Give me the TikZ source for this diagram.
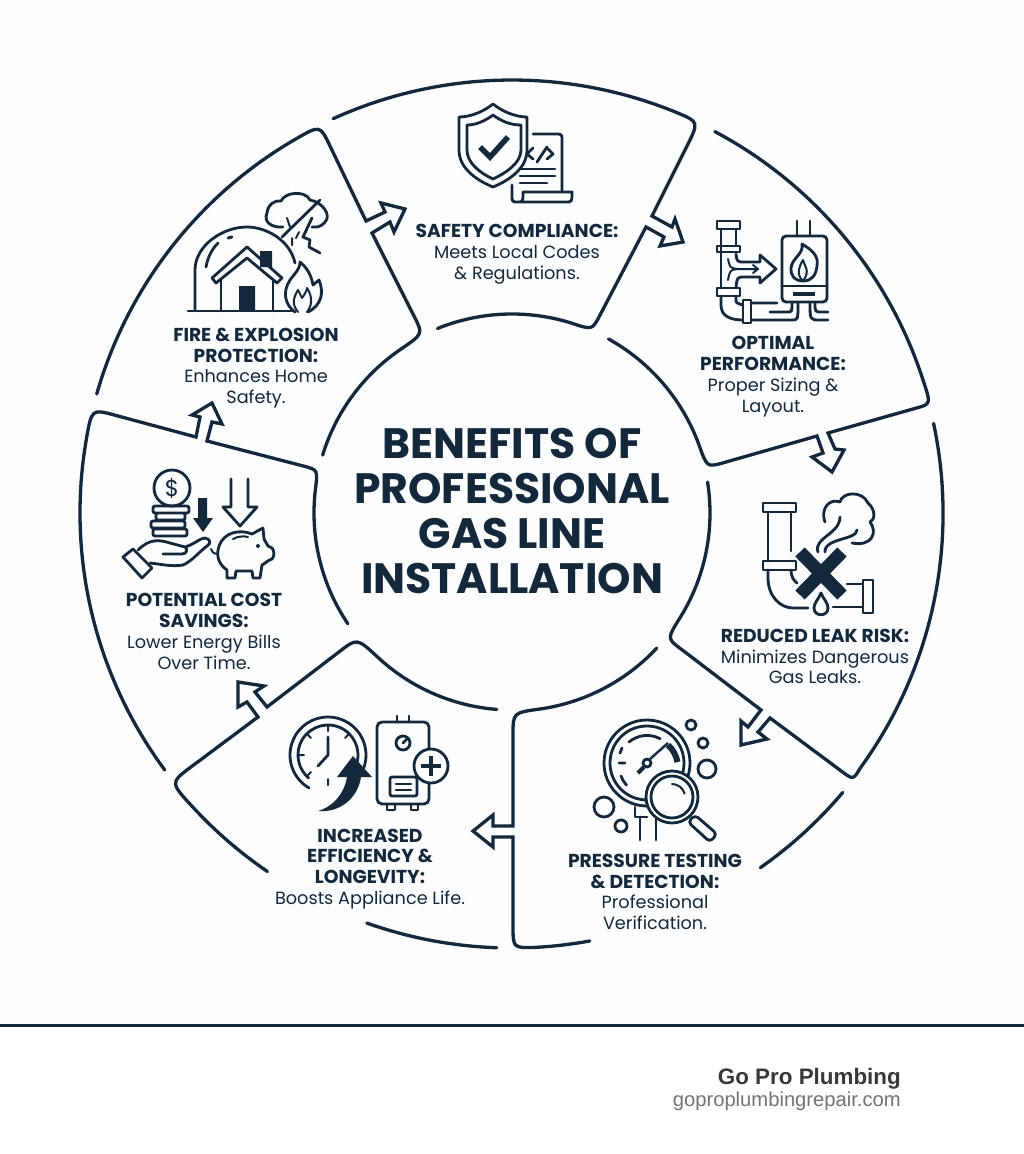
\documentclass[tikz,border=0pt]{standalone}
\usepackage{fontspec}
\setmainfont{Poppins}
\newfontfamily\footfont{Liberation Sans}
\usetikzlibrary{calc}
\definecolor{inkblue}{HTML}{13293B}
\definecolor{paleback}{HTML}{FBFDFE}
\newcommand{\boxhead}[1]{{\fontsize{18.7}{20.8}\selectfont\bfseries #1}}
\tikzset{
  ringline/.style={draw=inkblue,line width=3.3pt,line cap=round,line join=miter},
  iconline/.style={draw=inkblue,line width=2.8pt,line cap=round,line join=round},
  thinline/.style={draw=inkblue,line width=2pt,line cap=round,line join=round},
  solidmark/.style={fill=inkblue,draw=none},
  labeltext/.style={text=inkblue,align=center,inner sep=0pt,font=\fontsize{17.7}{20.8}\selectfont},
  headtext/.style={text=inkblue,align=center,inner sep=0pt,font=\fontsize{42.5}{45}\selectfont\bfseries}
}
\begin{document}
\begin{tikzpicture}[x=1pt,y=-1pt]
\useasboundingbox (0,0) rectangle (1024,1154);
\fill[paleback] (0,0) rectangle (1024,1025);
\coordinate (O) at (512,513);
\draw[ringline] ($(O)+(164:432pt)$) arc[start angle=164,end angle=120,radius=432pt]
  .. controls (320,125) .. (330,146) -- (366,221) -- (385,212) -- (381,203) -- (405,209) -- (394,232) -- (390,222) -- (372,233)
  -- (415,318) .. controls (423,334) .. ($(O)+(124.5:198pt)$) arc[start angle=124.5,end angle=163,radius=198pt];
\draw[ringline] ($(O)+(114.4:433pt)$) arc[start angle=114.4,end angle=67.5,radius=433pt]
  .. controls (699,122) .. (686.5,147) -- (652,216) -- (672,227) -- (675,219) -- (683,242) -- (660,246) -- (664,237) -- (646,227)
  -- (599,317) .. controls (592,330) .. ($(O)+(73:199pt)$) arc[start angle=73,end angle=112,radius=199pt];
\draw[ringline] ($(O)+(62:432pt)$) arc[start angle=62,end angle=18,radius=432pt]
  .. controls (931,404) .. (916.5,408) -- (828,433) -- (835,449) -- (844,450) -- (832,472) -- (812,457) -- (823,453) -- (817,436)
  -- (722.5,463) .. controls (707,467.2) .. ($(O)+(20:199pt)$) arc[start angle=20,end angle=61,radius=199pt];
\draw[ringline] ($(O)+(12:431pt)$) arc[start angle=12,end angle=-36,radius=433pt]
  .. controls (853.2,780) .. (841.2,771) -- (770,718) -- (758,732) -- (767,739) -- (741,745) -- (741,721) -- (748,727) -- (761,710)
  -- (681,649) .. controls (667,638.6) .. ($(O)+(-32:198pt)$) arc[start angle=-32,end angle=9,radius=198pt];
\draw[ringline] ($(O)+(-40.2:433pt)$) arc[start angle=-40.2,end angle=-55,radius=433pt];
\draw[ringline] ($(O)+(-43:198pt)$) arc[start angle=-43,end angle=-82,radius=198pt]
  .. controls (513,712.7) .. (513,735) -- (513,826) -- (493,826) -- (493,815) -- (473,831) -- (493,847) -- (493,837) -- (513,837)
  -- (513,925) .. controls (513,948) .. ($(O)+(-87:435pt)$) arc[start angle=-87,end angle=-79.7,radius=435pt];
\draw[ringline] ($(O)+(-94.4:197pt)$) arc[start angle=-94.4,end angle=-133,radius=197pt]
  .. controls (357,638) .. (339.7,651.4) -- (267,707) -- (255,692) -- (264,686) -- (238,682) -- (238,707) -- (247,702) -- (258,717)
  -- (190,767.7) .. controls (170,782.7) .. ($(O)+(223:434pt)$) arc[start angle=223,end angle=235.7,radius=434pt];
\draw[ringline] ($(O)+(250.5:435pt)$) arc[start angle=250.5,end angle=268,radius=435pt];
\draw[ringline] ($(O)+(216.5:432pt)$) arc[start angle=216.5,end angle=170,radius=432pt]
  .. controls (91.7,408.9) .. (115.8,415.4) -- (196,437) -- (200,417) -- (192,415) -- (212,403) -- (222,424) -- (212,422) -- (207,441)
  -- (303.3,466) .. controls (317.8,469.8) .. ($(O)+(173:198pt)$) arc[start angle=173,end angle=214,radius=198pt];
\node[headtext] (centertitle) at (512,511.5) {BENEFITS OF\\PROFESSIONAL\\GAS LINE\\INSTALLATION};
\node[labeltext] (safetylabel) at (517,254) {\boxhead{SAFETY COMPLIANCE:}\\Meets Local Codes\\\& Regulations.};
\node[labeltext] (optimallabel) at (773,376.5) {\boxhead{OPTIMAL}\\\boxhead{PERFORMANCE:}\\Proper Sizing \&\\Layout.};
\node[labeltext] (leaklabel) at (815,656.5) {\boxhead{REDUCED LEAK RISK:}\\Minimizes Dangerous\\Gas Leaks.};
\node[labeltext] (pressurelabel) at (655,892) {\boxhead{PRESSURE TESTING}\\\boxhead{\& DETECTION:}\\Professional\\Verification.};
\node[labeltext] (efficiencylabel) at (370,869) {\boxhead{INCREASED}\\\boxhead{EFFICIENCY \&}\\\boxhead{LONGEVITY:}\\Boosts Appliance Life.};
\node[labeltext] (costlabel) at (204,631.5) {\boxhead{POTENTIAL COST}\\\boxhead{SAVINGS:}\\Lower Energy Bills\\Over Time.};
\node[labeltext] (firelabel) at (256,368) {\boxhead{FIRE \& EXPLOSION}\\\boxhead{PROTECTION:}\\Enhances Home\\Safety.};
% shield and document
\draw[iconline] (533,134) -- (555,134) .. controls (562,134) .. (562,141) -- (562,192);
\draw[iconline] (512,185) -- (512,195) .. controls (512,202) .. (519,202) -- (566,202) .. controls (572,202) .. (572,192) -- (523,192) .. controls (523,202) .. (517,202);
\draw[fill=paleback,iconline] (493,104) .. controls (483,112) and (470,117) .. (459,117) -- (459,150) .. controls (459,168) and (476,180) .. (493,187) .. controls (510,180) and (527,168) .. (527,150) -- (527,117) .. controls (516,117) and (503,112) .. (493,104) -- cycle;
\draw[iconline] (493,115) .. controls (485,121) and (476,125) .. (467,125) -- (467,150) .. controls (467,163) and (480,173) .. (493,179) .. controls (506,173) and (521,163) .. (521,150) -- (521,125) .. controls (510,125) and (501,121) .. (493,115) -- cycle;
\draw[inkblue,line width=5.5pt,line join=miter] (480,147) -- (490,157) -- (508,137);
\draw[iconline] (533,148) -- (527,154) -- (533,159) (547,147) -- (537,162) (547,148) -- (553,154) -- (547,159);
\draw[iconline] (520,169) -- (555,169) (520,176) -- (555,176) (520,183) -- (547,183);
% pipes and heater
\draw[iconline] (717,221) rectangle (740,229) (717,246) rectangle (740,252) (717,288) rectangle (740,296);
\draw[iconline] (721,229) -- (721,288) (736,229) -- (736,246);
\draw[iconline] (736,254) .. controls (737,262) .. (745,262) -- (760,262) -- (760,255) -- (776,269) -- (760,283) -- (760,277) -- (745,277) .. controls (737,277) .. (736,288);
\draw[thinline] (728,259) .. controls (730,268) .. (738,269) -- (758,269) (728,280) .. controls (730,270) .. (738,269) (753,265) -- (758,269) -- (753,273);
\draw[iconline] (721,296) -- (721,305) .. controls (721,316) and (730,320) .. (743,320) (736,296) -- (736,299) .. controls (736,303) .. (743,305);
\draw[iconline] (743,300) rectangle (751,323);
\draw[iconline] (751,303) -- (777,303) (751,320) -- (792,320) .. controls (798,320) .. (798,303) (770,312) -- (787,312) .. controls (792,312) .. (792,303);
\draw[iconline,rounded corners=4pt] (782,236) rectangle (827,302);
\draw[iconline] (782,286) -- (827,286) (797,221) -- (797,236) (810,221) -- (810,236);
\fill[solidmark] (793,292) rectangle (815,296);
\draw[iconline] (810,303) .. controls (810,320) .. (820,320) -- (828,320) (815,303) .. controls (815,312) .. (822,312) -- (828,312);
\draw[iconline] (803,281) .. controls (794,281) and (790,274) .. (791,268) .. controls (792,258) and (804,254) .. (802,244) .. controls (812,250) and (819,256) .. (817,266) .. controls (816,275) and (812,281) .. (803,281);
\draw[thinline] (803,281) .. controls (797,276) and (798,268) .. (803,260) .. controls (804,266) and (811,270) .. (803,281);
% leaking pipe
\draw[iconline] (763,503) rectangle (796,512) (763,561) rectangle (796,570);
\draw[iconline] (768,512) -- (768,561) (791,512) -- (791,551);
\draw[iconline] (768,570) -- (768,578) .. controls (768,596) and (780,608) .. (793,608) -- (808,608) (791,570) .. controls (791,576) and (793,580) .. (797,583);
\draw[iconline] (833,607) -- (863,607) (847,584) -- (863,584) (863,580) rectangle (873,613);
\draw[inkblue,line width=13pt] (800,552) -- (842,595) (842,552) -- (800,595);
\draw[iconline] (821,593) .. controls (818,600) and (814,603) .. (814,608) .. controls (814,617) and (828,617) .. (828,608) .. controls (828,603) and (824,600) .. (821,593) -- cycle;
\draw[iconline] (825,522) .. controls (820,508) and (830,498) .. (840,502) .. controls (842,492) and (862,490) .. (868,503) .. controls (876,510) and (875,520) .. (870,522) .. controls (878,532) and (872,547) .. (852,543);
\draw[iconline] (818,552) .. controls (813,538) and (840,534) .. (840,517) (825,552) .. controls (824,538) and (857,540) .. (857,530);
% gauge and magnifier
\draw[iconline] (647,763) circle[radius=43pt] (647,763) circle[radius=37pt];
\draw[iconline] (629,742) arc[start angle=130,end angle=62,radius=28pt];
\draw[iconline] (620,753) -- (622,748) (619,763) -- (625,763) (621,776) arc[start angle=200,end angle=222,radius=28pt];
\draw[inkblue,line width=6pt] (668,745) arc[start angle=48,end angle=10,radius=30pt];
\draw[inkblue,line width=4pt] (638,773) -- (644,767);
\draw[inkblue,line width=2.4pt] (650,759) -- (668,743);
\draw[iconline] (647,763) circle[radius=4pt];
\draw[iconline] (635,807) -- (635,817) -- (647,817) (640,817) -- (640,840) (656,815) -- (656,840);
\draw[iconline,fill=paleback] (672,797) circle[radius=26pt];
\draw[iconline] (672,797) circle[radius=21pt];
\draw[thinline] (672,784) arc[start angle=90,end angle=15,radius=13pt];
\draw[iconline,rounded corners=4pt] (695,815) -- (717,834) -- (710,842) -- (688,822) -- cycle;
\draw[iconline] (691,725) circle[radius=5pt] (703,743) circle[radius=5pt] (707,769) circle[radius=9pt] (604,807) circle[radius=10pt] (621,826) circle[radius=6pt];
% clock and water heater
\draw[iconline] (328,755) ++(-20:38pt) arc[start angle=-20,end angle=240,radius=38pt];
\draw[iconline] (328,755) ++(-20:30pt) arc[start angle=-20,end angle=230,radius=30pt];
\draw[iconline] (328,737) -- (328,755) -- (318,766);
\draw[thinline] (328,725) -- (328,731) (298,755) -- (304,755) (328,779) -- (328,785) (349,734) -- (345,738) (307,734) -- (311,738) (307,776) -- (311,772);
\fill[solidmark] (318,811) .. controls (330,808) and (344,796) .. (347,777) -- (337,777) -- (353,756) -- (372,777) -- (361,777) .. controls (358,798) and (340,813) .. (318,811) -- cycle;
\draw[iconline,rounded corners=5pt] (377,722) rectangle (429,804);
\draw[iconline] (397,716) -- (397,722) (409,716) -- (409,722);
\draw[iconline] (403,743) circle[radius=7pt] (403,743) -- (407,739);
\draw[iconline,rounded corners=2pt] (390,777) rectangle (417,796);
\draw[iconline] (396,784) -- (411,784) (396,790) -- (411,790);
\draw[iconline] (387,804) -- (387,810) -- (395,810) -- (395,804) (411,804) -- (411,810) -- (418,810) -- (418,804);
\draw[iconline,fill=paleback] (431,766) circle[radius=17pt];
\draw[inkblue,line width=3.4pt] (421,766) -- (441,766) (431,756) -- (431,776);
% coins and piggy bank
\draw[iconline] (172,488) circle[radius=18pt];
\node[text=inkblue,inner sep=0pt,font=\fontsize{23}{23}\selectfont] (coinsign) at (172,488) {\$};
\draw[iconline,rounded corners=2pt] (153,506) rectangle (189,513) (156,513) rectangle (185,520) (151,521) rectangle (185,528) (153,529) rectangle (187,536);
\fill[solidmark] (198,498) -- (207,498) -- (207,518) -- (213,518) -- (203,532) -- (193,518) -- (198,518) -- cycle;
\draw[iconline] (231,479) -- (231,507) -- (223,507) -- (240,526) -- (257,507) -- (248,507) -- (248,479);
\draw[iconline] (123,557) -- (133,549) -- (152,568) -- (142,578) -- cycle;
\draw[iconline,fill=paleback] (138,550) .. controls (150,538) and (160,540) .. (170,543) -- (185,547) .. controls (195,544) and (200,538) .. (205,538) .. controls (211,539) and (211,544) .. (207,546) .. controls (198,553) and (192,561) .. (183,565) .. controls (172,567) and (160,564) .. (150,563);
\draw[iconline] (163,554) -- (182,554) .. controls (187,554) and (188,549) .. (185,547);
\draw[iconline] (227,578) -- (235,578) -- (236,571) -- (252,571) -- (253,578) -- (260,578) -- (262,565) .. controls (266,563) and (268,560) .. (272,559) .. controls (275,556) and (274,550) .. (272,548) -- (268,546) -- (264,539) -- (263,528) -- (252,534) .. controls (240,529) and (224,532) .. (219,546) .. controls (215,558) and (221,566) .. (227,570) -- cycle;
\draw[thinline] (233,539) .. controls (238,536) and (244,536) .. (248,537);
\fill[solidmark] (258,546) circle[radius=2pt];
\draw[thinline] (211,549) .. controls (213,553) .. (217,554);
% house under dome
\draw[iconline] (188,311) -- (292,311);
\draw[iconline] (195,311) -- (195,270) .. controls (195,246) and (222,227) .. (247,227) .. controls (266,227) and (290,240) .. (295,263);
\draw[iconline] (206,267) .. controls (208,255) and (214,247) .. (218,243) (228,238) -- (232,237);
\draw[iconline,fill=paleback] (212,278) -- (247,247) -- (282,278) -- (277,283) -- (247,258) -- (216,283) -- cycle;
\draw[iconline] (221,280) -- (221,311) (273,280) -- (273,311);
\fill[solidmark] (239,286) rectangle (255,311) (260,251) rectangle (272,267);
\draw[iconline] (282,237) -- (320,200);
\draw[iconline] (283,227) .. controls (272,228) and (263,222) .. (267,213) .. controls (268,204) and (275,200) .. (281,201) .. controls (285,192) and (305,190) .. (310,200) .. controls (322,202) and (332,215) .. (325,222) .. controls (320,228) and (316,227) .. (312,227);
\draw[iconline] (312,218) -- (303,237) -- (310,240) -- (309,247) -- (320,253);
\draw[thinline] (287,218) -- (290,227) (299,232) -- (296,238) (292,238) -- (292,245);
\draw[iconline] (295,312) .. controls (285,305) and (282,292) .. (290,280) .. controls (294,274) and (300,270) .. (300,262) .. controls (310,270) and (312,280) .. (313,285) -- (319,280) .. controls (324,292) and (322,305) .. (308,312);
\draw[thinline] (298,312) .. controls (292,305) and (293,298) .. (298,290) -- (302,298) .. controls (305,294) and (307,290) .. (307,288) .. controls (313,297) and (312,306) .. (307,312);
\draw[inkblue,line width=3pt] (0,1025) -- (1024,1025);
\node[anchor=east,inner sep=0pt,text=black!78,font=\footfont\fontsize{22.4}{22.4}\selectfont\bfseries] (brandname) at (901,1079) {Go Pro Plumbing};
\node[anchor=east,inner sep=0pt,text=black!55,font=\footfont\fontsize{20.2}{20.2}\selectfont] (brandsite) at (901,1101) {goproplumbingrepair.com};
\end{tikzpicture}
\end{document}
